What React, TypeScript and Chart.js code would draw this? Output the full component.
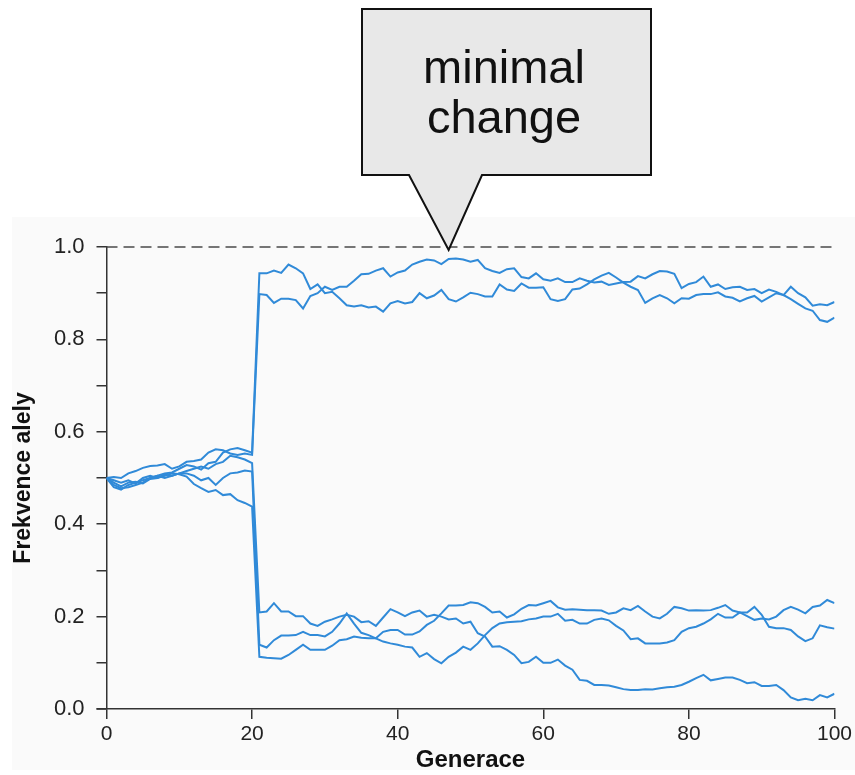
import React, { useEffect, useRef } from 'react';
import { Chart, registerables } from 'chart.js';

Chart.register(...registerables);

// ---- data -------------------------------------------------------------
const generations = Array.from({ length: 101 }, (_, i) => i);
const xTickValues = [0, 20, 40, 60, 80, 100];
const yTickValues = [0, 0.1, 0.2, 0.3, 0.4, 0.5, 0.6, 0.7, 0.8, 0.9, 1.0];
const yTickLabels = ['0.0', '', '0.2', '', '0.4', '', '0.6', '', '0.8', '', '1.0'];
const xTitle = 'Generace';
const yTitle = 'Frekvence alely';
const calloutLines = ['minimal', 'change'];
const calloutGeneration = 47;
const fixationLevel = 1.0;

// generations 0..20 (large population)
const earlyA = [0.5, 0.485, 0.478, 0.48, 0.485, 0.49, 0.5, 0.505, 0.51, 0.512, 0.52, 0.528, 0.525, 0.518, 0.532, 0.535, 0.555, 0.562, 0.565, 0.56, 0.555];
const earlyB = [0.5, 0.502, 0.5, 0.51, 0.515, 0.522, 0.526, 0.527, 0.53, 0.52, 0.525, 0.535, 0.537, 0.54, 0.555, 0.562, 0.56, 0.553, 0.55, 0.553, 0.55];
const earlyC = [0.5, 0.49, 0.482, 0.49, 0.492, 0.488, 0.498, 0.5, 0.508, 0.505, 0.51, 0.515, 0.52, 0.525, 0.52, 0.53, 0.535, 0.548, 0.545, 0.54, 0.532];
const earlyE = [0.5, 0.48, 0.475, 0.485, 0.49, 0.495, 0.5, 0.505, 0.5, 0.505, 0.51, 0.51, 0.505, 0.495, 0.5, 0.485, 0.5, 0.51, 0.512, 0.516, 0.514];
const earlyF = [0.5, 0.495, 0.49, 0.495, 0.488, 0.5, 0.505, 0.5, 0.505, 0.51, 0.508, 0.503, 0.487, 0.478, 0.47, 0.474, 0.463, 0.465, 0.452, 0.446, 0.438];

// generations 21..100 (after the bottleneck)
const lateA = [
  0.943, 0.943, 0.949, 0.944, 0.962, 0.954, 0.943, 0.909, 0.919, 0.9,
  0.903, 0.889, 0.874, 0.871, 0.874, 0.869, 0.871, 0.86, 0.878, 0.883,
  0.878, 0.881, 0.9, 0.889, 0.895, 0.907, 0.887, 0.882, 0.891, 0.901,
  0.898, 0.893, 0.893, 0.919, 0.908, 0.905, 0.921, 0.912, 0.912,
  0.913, 0.887, 0.883, 0.887, 0.908, 0.91, 0.919, 0.93, 0.938, 0.944,
  0.934, 0.923, 0.914, 0.907, 0.879, 0.889, 0.896, 0.889, 0.878, 0.889,
  0.888, 0.896, 0.898, 0.898, 0.902, 0.893, 0.89, 0.882, 0.889, 0.894,
  0.882, 0.891, 0.9, 0.896, 0.887, 0.877, 0.867, 0.862, 0.842, 0.838, 0.847,
];
const lateB = [
  0.898, 0.896, 0.879, 0.888, 0.888, 0.885, 0.867, 0.894, 0.9, 0.914,
  0.907, 0.914, 0.914, 0.927, 0.941, 0.942, 0.949, 0.954, 0.936, 0.945,
  0.949, 0.962, 0.968, 0.973, 0.971, 0.963, 0.974, 0.975, 0.973, 0.968,
  0.972, 0.954, 0.948, 0.944, 0.952, 0.954, 0.935, 0.932, 0.943,
  0.93, 0.927, 0.932, 0.924, 0.924, 0.932, 0.927, 0.923, 0.925, 0.918,
  0.921, 0.924, 0.925, 0.937, 0.932, 0.941, 0.948, 0.947, 0.942, 0.911,
  0.92, 0.924, 0.936, 0.914, 0.919, 0.909, 0.913, 0.914, 0.907, 0.909,
  0.9, 0.908, 0.903, 0.896, 0.914, 0.9, 0.891, 0.873, 0.876, 0.874, 0.881,
];
const lateC = [
  0.209, 0.211, 0.229, 0.211, 0.211, 0.201, 0.201, 0.185, 0.18, 0.189,
  0.194, 0.2, 0.204, 0.2, 0.188, 0.19, 0.18, 0.198, 0.216, 0.209,
  0.201, 0.209, 0.213, 0.2, 0.204, 0.2, 0.194, 0.196, 0.185, 0.189,
  0.164, 0.157, 0.135, 0.136, 0.128, 0.117, 0.099, 0.102, 0.113, 0.1,
  0.1, 0.107, 0.094, 0.085, 0.063, 0.061, 0.052, 0.052, 0.051, 0.047,
  0.043, 0.041, 0.041, 0.043, 0.042, 0.045, 0.047, 0.048, 0.052, 0.059,
  0.067, 0.074, 0.062, 0.065, 0.068, 0.068, 0.063, 0.056, 0.058, 0.05,
  0.05, 0.052, 0.041, 0.025, 0.019, 0.022, 0.019, 0.03, 0.025, 0.033,
];
const lateE = [
  0.139, 0.133, 0.149, 0.159, 0.159, 0.16, 0.167, 0.16, 0.16, 0.157,
  0.167, 0.185, 0.207, 0.185, 0.165, 0.16, 0.153, 0.146, 0.142, 0.139,
  0.135, 0.133, 0.113, 0.121, 0.108, 0.099, 0.113, 0.122, 0.135, 0.128,
  0.142, 0.16, 0.175, 0.185, 0.188, 0.189, 0.19, 0.194, 0.196, 0.2,
  0.2, 0.206, 0.191, 0.193, 0.185, 0.185, 0.193, 0.196, 0.192, 0.18,
  0.17, 0.151, 0.153, 0.142, 0.142, 0.142, 0.144, 0.149, 0.167, 0.175,
  0.178, 0.185, 0.194, 0.206, 0.198, 0.198, 0.209, 0.201, 0.193, 0.196,
  0.194, 0.2, 0.214, 0.221, 0.215, 0.207, 0.221, 0.224, 0.236, 0.229,
];
const lateF = [
  0.113, 0.111, 0.11, 0.109, 0.117, 0.128, 0.139, 0.128, 0.128, 0.128,
  0.137, 0.149, 0.151, 0.157, 0.154, 0.153, 0.153, 0.167, 0.171, 0.171,
  0.161, 0.161, 0.168, 0.182, 0.191, 0.207, 0.224, 0.224, 0.225, 0.231,
  0.229, 0.221, 0.209, 0.211, 0.198, 0.205, 0.217, 0.225, 0.224, 0.229,
  0.234, 0.22, 0.215, 0.216, 0.215, 0.214, 0.214, 0.213, 0.206, 0.209,
  0.218, 0.214, 0.223, 0.211, 0.2, 0.196, 0.206, 0.221, 0.218, 0.213,
  0.214, 0.213, 0.214, 0.219, 0.225, 0.213, 0.209, 0.209, 0.221, 0.204,
  0.178, 0.175, 0.175, 0.171, 0.157, 0.147, 0.153, 0.181, 0.177, 0.174,
];

const seriesList = [
  [...earlyA, ...lateA],
  [...earlyB, ...lateB],
  [...earlyC, ...lateC],
  [...earlyE, ...lateE],
  [...earlyF, ...lateF],
];

// ---- styles -------------------------------------------------------------
const FONT = '"Liberation Sans", Arial, Helvetica, sans-serif';
const LINE_COLOR = 'rgb(48,138,216)';
const AXIS_COLOR = '#333333';

export default function App() {
  const canvasRef = useRef<HTMLCanvasElement | null>(null);

  useEffect(() => {
    const canvas = canvasRef.current;
    if (!canvas) return;

    const backgroundPlugin = {
      id: 'bgPlugin',
      beforeDraw(chart: any) {
        const ctx = chart.ctx;
        ctx.save();
        ctx.fillStyle = '#fafafa';
        ctx.fillRect(12, 217, 843, 553);
        ctx.restore();
      },
    };

    const decorPlugin = {
      id: 'decorPlugin',
      afterDraw(chart: any) {
        const ctx = chart.ctx;
        const area = chart.chartArea;
        const xs = chart.scales.x;
        const ys = chart.scales.y;
        ctx.save();
        // extend x axis line leftwards by tick length
        ctx.strokeStyle = AXIS_COLOR;
        ctx.lineWidth = 1.5;
        ctx.beginPath();
        ctx.moveTo(area.left - 10, area.bottom);
        ctx.lineTo(area.left, area.bottom);
        ctx.stroke();

        // callout
        const tipX = xs.getPixelForValue(calloutGeneration);
        const tipY = ys.getPixelForValue(fixationLevel) + 3;
        ctx.beginPath();
        ctx.moveTo(362, 9);
        ctx.lineTo(651, 9);
        ctx.lineTo(651, 175);
        ctx.lineTo(482, 175);
        ctx.lineTo(tipX, tipY);
        ctx.lineTo(409, 175);
        ctx.lineTo(362, 175);
        ctx.closePath();
        ctx.fillStyle = '#e8e8e8';
        ctx.fill();
        ctx.strokeStyle = '#111111';
        ctx.lineWidth = 2;
        ctx.lineJoin = 'miter';
        ctx.stroke();

        ctx.fillStyle = '#111111';
        ctx.font = `47px ${FONT}`;
        ctx.textAlign = 'center';
        ctx.textBaseline = 'alphabetic';
        ctx.fillText(calloutLines[0], 504, 83);
        ctx.fillText(calloutLines[1], 504, 133);
        ctx.restore();
      },
    };

    const datasets: any[] = seriesList.map((vals) => ({
      data: vals.map((v, i) => ({ x: generations[i], y: v })),
      borderColor: LINE_COLOR,
      borderWidth: 2,
      pointRadius: 0,
      tension: 0,
      fill: false,
    }));
    datasets.unshift({
      data: [
        { x: generations[0], y: fixationLevel },
        { x: generations[generations.length - 1], y: fixationLevel },
      ],
      borderColor: '#4a4a4a',
      borderWidth: 1.6,
      borderDash: [11, 6],
      pointRadius: 0,
      fill: false,
      clip: 4,
    });

    const chart = new Chart(canvas, {
      type: 'line',
      data: { datasets },
      plugins: [backgroundPlugin, decorPlugin],
      options: {
        animation: false,
        responsive: false,
        events: [],
        layout: { padding: { top: 247, right: 19, bottom: 0, left: 0 } },
        plugins: {
          legend: { display: false },
          tooltip: { enabled: false },
        },
        scales: {
          x: {
            type: 'linear',
            min: 0,
            max: 100,
            afterBuildTicks: (s: any) => {
              s.ticks = xTickValues.map((v) => ({ value: v }));
            },
            afterFit: (s: any) => {
              s.height = 66;
            },
            ticks: {
              autoSkip: false,
              maxRotation: 0,
              padding: 3,
              color: '#222222',
              font: { family: FONT, size: 21 },
              callback: (v: any) => String(v),
            },
            grid: {
              display: true,
              drawOnChartArea: false,
              drawTicks: true,
              tickLength: 10,
              color: AXIS_COLOR,
              lineWidth: 1.5,
            },
            border: { display: true, color: AXIS_COLOR, width: 1.5 },
            title: {
              display: true,
              text: xTitle,
              color: '#111111',
              font: { family: FONT, size: 24, weight: 'bold' },
              padding: { top: 0, bottom: 0 },
            },
          },
          y: {
            type: 'linear',
            min: 0,
            max: 1,
            afterBuildTicks: (s: any) => {
              s.ticks = yTickValues.map((v) => ({ value: v }));
            },
            afterFit: (s: any) => {
              s.width = 106.5;
            },
            ticks: {
              autoSkip: false,
              padding: 12,
              color: '#222222',
              font: { family: FONT, size: 22 },
              callback: (_v: any, i: number) => yTickLabels[i],
            },
            grid: {
              display: true,
              drawOnChartArea: false,
              drawTicks: true,
              tickLength: 10,
              color: AXIS_COLOR,
              lineWidth: 1.5,
            },
            border: { display: true, color: AXIS_COLOR, width: 1.5 },
            title: {
              display: true,
              text: yTitle,
              color: '#111111',
              font: { family: FONT, size: 23, weight: 'bold' },
              padding: { top: 10, bottom: 0 },
            },
          },
        },
      } as any,
    });

    return () => {
      chart.destroy();
    };
  }, []);

  return (
    <div style={{ position: 'absolute', left: 0, top: 0, width: 855, height: 775, background: '#ffffff' }}>
      <canvas ref={canvasRef} width={855} height={775} style={{ display: 'block' }} />
    </div>
  );
}
